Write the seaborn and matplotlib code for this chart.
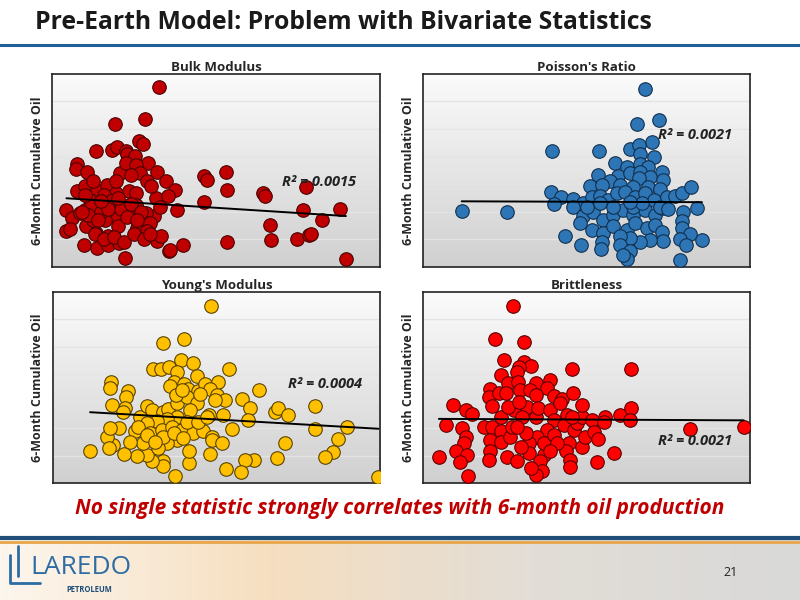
import numpy as np
import pandas as pd
import matplotlib
matplotlib.use("Agg")
import matplotlib.pyplot as plt
import seaborn as sns

bulk_x = [3.27,2.83,1.91,2.65,2.76,1.35,1.83,1.99,2.27,2.29,2.54,0.76,0.74,1.08,2.93,3.2,3.49,3.74,0.76,1.0,1.37,1.68,2.06,2.27,2.57,2.67,2.91,1.96,2.35,2.57,3.18,3.54,3.82,0.44,0.62,0.44,0.56,1.0,1.15,1.45,1.76,1.05,1.35,1.71,0.97,1.37,1.71,2.04,2.22,2.47,2.8,3.1,3.28,3.2,3.33,3.57,3.59,3.98,1.91,2.22,1.61,1.25,0.84,1.96,2.42,1.58,1.25,2.57,2.88,3.03,4.63,4.73,5.3,5.35,4.63,6.42,6.49,7.74,7.64,8.22,6.64,6.69,7.48,7.84,7.91,8.78,8.96,5.35,
          1.2,1.5,1.8,2.1,2.4,2.7,3.0,1.1,1.4,1.7,2.0,2.3,2.6,2.9,0.9,1.3,1.6,1.9,2.2,2.5,2.8,1.0,1.5,2.0,2.6,3.0]
bulk_y = [6.52,5.36,5.19,4.55,4.47,4.22,4.25,4.34,4.19,4.1,4.03,3.74,3.55,3.46,3.77,3.46,3.1,2.8,2.74,2.92,2.8,2.98,3.4,3.77,3.71,3.4,3.1,2.68,2.74,2.68,2.5,2.56,2.05,2.08,1.77,1.29,1.38,2.08,2.44,1.96,2.32,1.47,1.23,1.11,0.81,0.69,0.81,0.87,0.33,1.96,1.57,1.83,2.17,0.93,1.13,0.57,0.63,0.81,1.83,2.2,1.71,1.71,1.96,3.1,3.34,2.62,3.1,2.26,1.96,2.92,3.31,3.16,3.46,2.8,2.35,2.68,2.56,2.9,2.05,1.71,1.51,0.99,1.03,1.17,1.21,2.11,0.29,0.89,
          2.2,2.0,2.4,2.1,2.3,2.0,1.6,1.9,1.7,2.1,1.5,1.8,1.4,1.3,2.0,1.2,1.0,1.1,0.9,1.2,1.0,2.6,2.4,2.5,1.7,1.2]

pois_x = [1.18,2.56,3.96,5.4,6.8,6.54,7.21,7.02,6.34,6.6,6.65,7.07,5.88,6.24,6.65,6.9,5.98,6.34,6.65,7.33,5.37,6.95,7.36,6.6,5.73,5.11,5.47,6.03,6.44,6.9,7.26,3.91,4.22,4.0,4.6,4.89,5.16,5.42,5.67,5.93,6.19,6.5,6.8,7.06,7.46,7.72,7.92,8.2,8.38,7.97,4.6,4.91,5.21,5.52,5.83,6.13,6.44,6.8,7.11,7.32,4.81,5.16,5.52,5.83,6.24,6.5,6.85,7.11,7.31,7.92,7.92,8.18,8.54,7.87,8.06,7.36,6.95,6.65,6.34,6.03,5.47,5.45,4.83,4.33,6.03,6.34,6.24,6.13,7.87,5.42,5.83,6.44,6.7,7.26,7.51,5.01,6.34]
pois_y = [2.04,2.01,4.21,4.21,6.46,5.17,5.32,4.53,4.29,4.41,4.11,3.99,3.78,3.63,3.73,3.63,3.31,3.39,3.45,3.45,3.33,3.27,3.15,3.21,3.13,2.93,2.97,2.97,2.91,2.91,2.81,2.73,2.55,2.29,2.45,2.31,2.55,2.57,2.43,2.69,2.73,2.55,2.67,2.43,2.53,2.57,2.67,2.89,2.13,2.01,2.19,1.83,2.01,1.71,1.89,2.07,1.89,2.07,1.89,2.13,1.61,1.35,1.23,1.49,1.35,1.59,1.41,1.53,1.25,1.68,1.41,1.2,0.99,1.01,0.81,0.93,0.99,0.89,1.05,1.13,0.89,0.65,0.81,1.11,0.81,0.57,0.3,0.45,0.26,2.31,2.19,2.19,2.31,2.19,2.09,2.19,2.37]

young_x = [4.84,4.02,3.36,3.92,4.28,3.05,3.31,3.56,3.81,5.4,4.4,1.78,1.75,2.29,2.24,1.8,2.21,2.16,3.69,3.58,4.01,4.14,4.45,4.65,5.06,4.8,5.01,5.26,4.96,5.77,6.31,6.03,6.79,6.89,7.2,8.0,8.0,8.98,8.73,8.57,8.32,7.1,6.84,6.15,5.88,5.75,5.3,5.47,5.21,5.98,4.76,9.95,1.14,3.74,4.17,4.79,4.17,3.38,3.36,3.02,2.87,2.57,2.19,1.85,1.65,1.73,2.01,1.75,2.52,2.67,2.87,3.02,3.38,3.53,3.79,4.09,4.4,4.5,4.19,3.79,3.48,3.18,2.87,2.61,2.97,3.33,3.63,3.94,4.3,4.6,4.86,4.86,5.16,3.79,3.48,3.23,2.77,2.36,2.87,4.09,4.45,4.72,3.38,3.69,3.12,3.99,3.77,3.94]
young_y = [6.48,5.27,5.15,4.53,4.42,4.18,4.2,4.26,4.08,4.18,3.92,3.69,3.49,3.38,3.17,2.86,2.74,2.62,3.69,3.57,3.63,3.45,3.39,3.63,3.71,3.45,3.23,3.04,3.04,3.1,3.41,2.74,2.62,2.74,2.5,2.82,1.97,2.07,1.62,1.12,0.95,1.46,0.91,0.83,0.83,0.39,0.51,1.97,2.5,2.31,2.5,0.22,1.19,0.24,0.73,1.06,1.16,0.79,0.61,0.79,1.03,0.99,1.06,1.4,1.7,1.28,2.01,2.01,1.89,2.43,2.82,2.68,2.62,2.7,2.95,3.17,2.92,3.26,2.68,2.43,2.34,2.29,2.19,2.07,1.83,1.95,2.07,1.95,1.83,1.89,1.7,1.56,1.46,1.58,1.46,1.28,1.46,1.52,1.77,2.22,2.22,2.43,1.7,1.83,1.52,1.64,3.23,3.41]

brit_x = [2.74,2.21,3.08,2.48,3.08,3.29,2.93,2.88,4.56,6.38,2.37,2.6,2.9,3.47,3.9,3.8,2.06,2.01,2.32,2.55,2.96,3.27,3.47,4.0,4.24,4.59,2.11,0.92,1.3,1.5,0.69,1.2,1.3,1.25,0.99,1.35,0.48,1.12,1.37,1.86,2.11,2.04,2.06,2.01,2.37,2.37,2.67,2.57,2.88,2.72,2.78,3.18,3.18,3.02,3.47,3.53,3.9,4.0,3.8,3.49,3.24,3.24,3.69,3.59,3.63,3.47,3.29,3.14,2.88,4.2,4.41,4.3,4.61,4.46,4.36,4.49,4.49,4.87,4.97,4.72,4.87,4.87,4.56,5.17,5.23,5.37,5.31,5.84,5.58,5.55,6.04,6.37,6.33,8.18,9.82,3.69,4.0,2.37,2.6,2.93,4.1,3.9,3.0]
brit_y = [6.48,5.3,5.18,4.53,4.44,4.28,4.24,4.08,4.2,4.2,3.96,3.66,3.71,3.67,3.77,3.47,3.44,3.15,3.3,3.3,3.42,3.42,3.23,3.2,3.1,3.3,2.81,2.86,2.66,2.54,2.11,2.01,1.68,1.46,1.16,1.03,0.95,0.76,0.24,2.05,2.05,1.56,1.19,0.85,1.89,1.52,1.7,0.95,0.8,2.05,2.68,2.66,2.8,2.43,2.43,2.74,2.66,2.31,1.95,1.7,1.46,1.09,1.03,0.79,0.43,0.3,0.55,1.83,2.05,2.93,2.5,2.11,1.95,1.46,1.16,0.85,0.58,1.33,1.7,2.19,2.43,2.86,2.43,2.31,1.86,1.62,0.76,1.09,2.43,2.22,2.49,2.74,2.31,1.97,2.05,1.46,1.76,2.43,2.8,2.98,1.46,1.19,1.33]

panels = [
    ("Bulk Modulus", bulk_x, bulk_y, "#c00000", "#4a0000", "R² = 0.0015", (0.70, 0.42), [0.065, 0.555, 0.410, 0.322]),
    ("Poisson's Ratio", pois_x, pois_y, "#2e75b6", "#10304f", "R² = 0.0021", (0.72, 0.66), [0.529, 0.555, 0.408, 0.322]),
    ("Young's Modulus", young_x, young_y, "#ffc000", "#5a4300", "R² = 0.0004", (0.72, 0.50), [0.066, 0.195, 0.409, 0.318]),
    ("Brittleness", brit_x, brit_y, "#ff0000", "#5a0000", "R² = 0.0021", (0.72, 0.20), [0.529, 0.195, 0.408, 0.318]),
]

sns.set_style("white")
plt.rcParams['font.family'] = ['Open Sans', 'DejaVu Sans']
fig = plt.figure(figsize=(8, 6), dpi=100)
fig.patch.set_facecolor("white")

fig.text(0.044, 0.962, "Pre-Earth Model: Problem with Bivariate Statistics", fontsize=17.8,
         fontweight="bold", color="#1a1a1a", ha="left", va="center")
fig.add_artist(plt.Line2D([0, 1], [0.925, 0.925], color="#1f5f9a", lw=2.2))

grad = np.linspace(0, 1, 256).reshape(-1, 1)
cm = matplotlib.colors.LinearSegmentedColormap.from_list("g", ["#fbfbfb", "#d0d0d0"])
for title, xs, ys, fc, ec, rtxt, rpos, rect in panels:
    ax = fig.add_axes(rect)
    ax.imshow(grad, extent=[0, 10, 0, 7], aspect="auto", cmap=cm, origin="upper", zorder=0)
    for gy in range(1, 7):
        ax.axhline(gy, color="#e4e4e4", lw=1, zorder=1)
    df = pd.DataFrame({"x": xs, "y": ys})
    sns.scatterplot(data=df, x="x", y="y", ax=ax, color=fc, edgecolor=ec, linewidth=0.8, s=95, zorder=3, legend=False)
    k, b = np.polyfit(xs, ys, 1)
    xx = np.array([min(xs), max(xs)])
    ax.plot(xx, k * xx + b, color="black", lw=1.4, zorder=4)
    ax.text(rpos[0], rpos[1], rtxt, transform=ax.transAxes, fontsize=10.5, fontweight="bold",
            style="italic", color="#222222", zorder=5)
    ax.set_xlim(0, 10)
    ax.set_ylim(0, 7)
    ax.set_xticks([]); ax.set_yticks([])
    ax.set_xlabel("")
    ax.set_ylabel("6-Month Cumulative Oil", fontsize=9, fontweight="bold", labelpad=6)
    ax.set_title(title, fontsize=9.5, fontweight="bold", pad=2)
    for sp in ax.spines.values():
        sp.set_color("#222222"); sp.set_linewidth(1.2); sp.set_visible(True)

fig.text(0.5, 0.153, "No single statistic strongly correlates with 6-month oil production",
         fontsize=15, fontweight="bold", style="italic", color="#c00000", ha="center", va="center")

fax = fig.add_axes([0, 0, 1, 0.1])
fgrad = np.linspace(0, 1, 256).reshape(1, -1)
fax.imshow(fgrad, extent=[0, 1, 0, 1], aspect="auto",
           cmap=matplotlib.colors.LinearSegmentedColormap.from_list("f", ["#fdf6ee", "#f6dfc0", "#e2ddd6", "#d9d9d9"]))
fax.set_xlim(0, 1); fax.set_ylim(0, 1); fax.axis("off")
fig.add_artist(plt.Line2D([0, 1], [0.104, 0.104], color="#1f4e79", lw=3))
fig.add_artist(plt.Line2D([0, 1], [0.097, 0.097], color="#e8a54a", lw=2))
fig.text(0.038, 0.055, "LAREDO", fontsize=19, color="#2e6ca4", ha="left", va="center")
fig.text(0.083, 0.018, "PETROLEUM", fontsize=5.5, fontweight="bold", color="#1f4e79", ha="left", va="center")
fig.add_artist(plt.Line2D([0.012, 0.012, 0.05], [0.075, 0.028, 0.028], color="#2e6ca4", lw=2))
fig.add_artist(plt.Line2D([0.022, 0.022], [0.09, 0.04], color="#2e6ca4", lw=2))
fig.text(0.913, 0.045, "21", fontsize=9, color="#222222", ha="center", va="center")

fig.savefig("out.png", dpi=100)
